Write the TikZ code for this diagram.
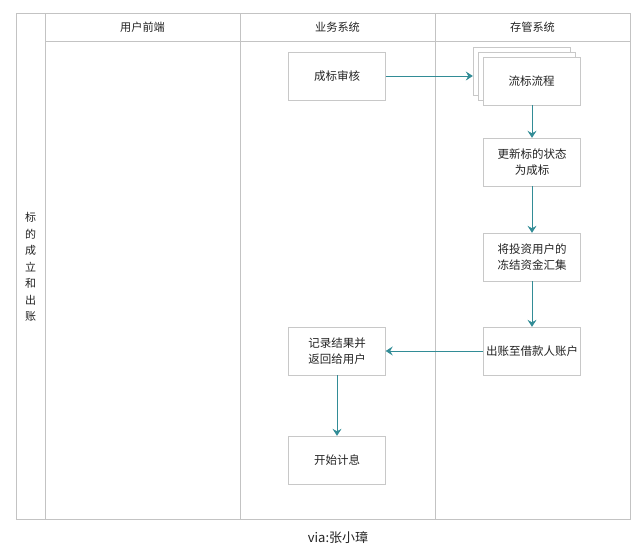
\documentclass[tikz,border=0pt]{standalone}
\usepackage{fontspec}
\setmainfont{Noto Sans CJK SC}
\usetikzlibrary{arrows.meta}
\definecolor{frame}{RGB}{195,195,195}
\definecolor{boxline}{RGB}{200,200,200}
\definecolor{arr}{RGB}{50,140,150}
\definecolor{txt}{RGB}{35,35,35}
\tikzset{
  procbox/.style={draw=boxline, fill=white, minimum width=97pt, minimum height=48pt, inner sep=0pt, align=center, font=\fontsize{11.5}{16}\selectfont, text=txt},
  flow/.style={draw=arr, line width=0.9pt, -{Stealth[length=7pt,width=9pt,inset=2.5pt]}},
  lane/.style={draw=frame, line width=0.8pt},
  hdr/.style={font=\fontsize{11.2}{13}\selectfont, text=txt}
}
\begin{document}
\begin{tikzpicture}[x=1pt,y=-1pt]
\useasboundingbox (0,0) rectangle (640,552);
% frame and lanes
\draw[lane] (16,13) rectangle (630,519);
\draw[lane] (45,13) -- (45,519);
\draw[lane] (240,13) -- (240,519);
\draw[lane] (435,13) -- (435,519);
\draw[lane] (45,41) -- (630,41);
% headers
\node[hdr] (h1) at (142.5,27) {用户前端};
\node[hdr] (h2) at (337.5,27) {业务系统};
\node[hdr] (h3) at (532.5,27) {存管系统};
\node[hdr, align=center, font=\fontsize{11}{16.5}\selectfont] (side) at (30.5,267) {标\\的\\成\\立\\和\\出\\账};
% boxes
\node[procbox] (shen) at (337,76) {成标审核};
\node[procbox] (bk2) at (521.5,71) {};
\node[procbox] (bk1) at (526.5,76) {};
\node[procbox] (liu) at (531.5,81) {流标流程};
\node[procbox] (geng) at (532,162) {更新标的状态\\为成标};
\node[procbox] (jiang) at (532,257) {将投资用户的\\冻结资金汇集};
\node[procbox] (chu) at (532,351) {出账至借款人账户};
\node[procbox] (ji) at (337,351) {记录结果并\\返回给用户};
\node[procbox] (kai) at (337,460) {开始计息};
% arrows
\draw[flow] (shen.east) -- (bk2.west |- shen.east);
\draw[flow] (liu.south -| geng.north) -- (geng.north);
\draw[flow] (geng) -- (jiang);
\draw[flow] (jiang) -- (chu);
\draw[flow] (chu) -- (ji);
\draw[flow] (ji) -- (kai);
% caption
\node[font=\fontsize{13}{15}\selectfont, text=txt] (via) at (338,538) {via:张小璋};
\end{tikzpicture}
\end{document}
